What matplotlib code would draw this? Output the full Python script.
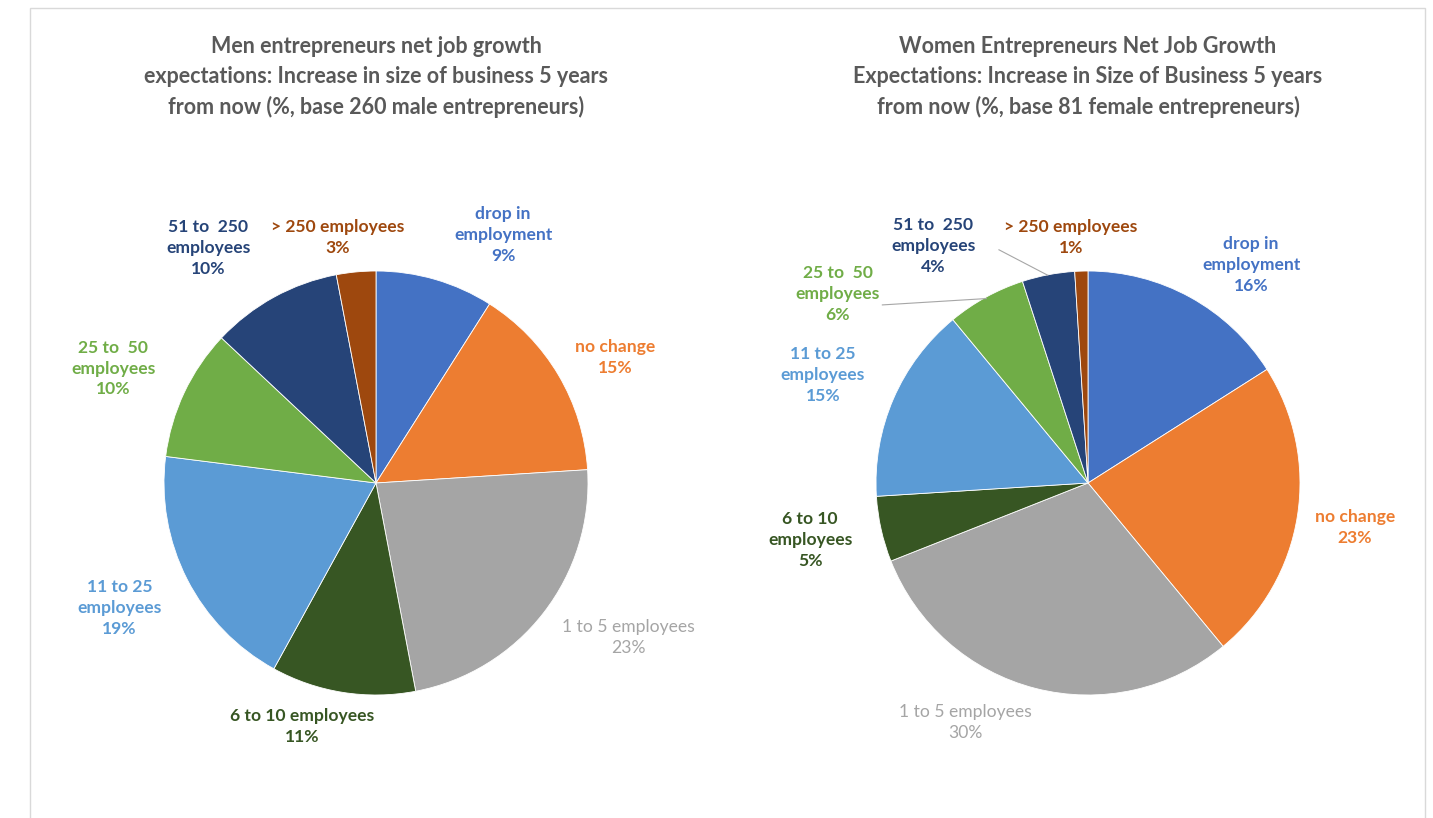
import matplotlib
matplotlib.use("Agg")
import matplotlib.pyplot as plt
from matplotlib.patches import Rectangle

plt.rcParams['font.family'] = ['Lato', 'DejaVu Sans']

# data
categories = ['drop in\nemployment', 'no change', '1 to 5 employees', '6 to 10 employees',
              '11 to 25\nemployees', '25 to  50\nemployees', '51 to  250\nemployees', '> 250 employees']
categories_w = ['drop in\nemployment', 'no change', '1 to 5 employees', '6 to 10\nemployees',
                '11 to 25\nemployees', '25 to  50\nemployees', '51 to  250\nemployees', '> 250 employees']
men_pct = [9, 15, 23, 11, 19, 10, 10, 3]
women_pct = [16, 23, 30, 5, 15, 6, 4, 1]
men_title = "Men entrepreneurs net job growth\nexpectations: Increase in size of business 5 years\nfrom now (%, base 260 male entrepreneurs)"
women_title = "Women Entrepreneurs Net Job Growth\nExpectations: Increase in Size of Business 5 years\nfrom now (%, base 81 female entrepreneurs)"

colors = ['#4472C4', '#ED7D31', '#A5A5A5', '#375623', '#5B9BD5', '#70AD47', '#264478', '#9E480E']
text_colors = ['#4472C4', '#ED7D31', '#A5A5A5', '#375623', '#5B9BD5', '#70AD47', '#264478', '#9E480E']

# label placement (pie radius units)
men_lab_pos = [(0.60, 1.17), (1.13, 0.59), (1.19, -0.73), (-0.35, -1.15),
               (-1.21, -0.59), (-1.24, 0.54), (-0.79, 1.11), (-0.18, 1.16)]
women_lab_pos = [(0.77, 1.03), (1.26, -0.21), (-0.58, -1.13), (-1.31, -0.27),
                 (-1.25, 0.51), (-1.18, 0.89), (-0.73, 1.12), (-0.08, 1.16)]

W, H = 1433, 818
fig = plt.figure(figsize=(W / 100, H / 100), dpi=100)
fig.patches.append(Rectangle((30 / W, -0.01), (1425 - 30) / W, 1 - 8 / H + 0.01,
                             transform=fig.transFigure, fill=False,
                             edgecolor='#D9D9D9', linewidth=1))

R = 212  # pie radius in px
half = 300


def draw_pie(cx, cy, vals, labels, lab_pos, title, leaders):
    ax = fig.add_axes([(cx - half) / W, 1 - (cy + half) / H, 2 * half / W, 2 * half / H])
    lim = half / R
    ax.pie(vals, colors=colors, startangle=90, counterclock=False,
           wedgeprops=dict(edgecolor='white', linewidth=0.6))
    ax.set_xlim(-lim, lim)
    ax.set_ylim(-lim, lim)
    ax.set_aspect('equal')
    ax.axis('off')
    for i, (lab, v) in enumerate(zip(labels, vals)):
        x, y = lab_pos[i]
        wt = 'normal' if i == 2 else 'bold'
        ax.text(x, y, f"{lab}\n{v}%", ha='center', va='center', fontsize=12.6,
                color=text_colors[i], fontweight=wt, linespacing=1.38)
    for (x0, y0, x1, y1) in leaders:
        ax.plot([x0, x1], [y0, y1], color='#A6A6A6', linewidth=0.8)
    fig.text(cx / W, 1 - 77 / H, title, ha='center', va='center', fontsize=15.5,
             fontweight='bold', color='#595959', linespacing=1.5)


draw_pie(376, 483, men_pct, categories, men_lab_pos, men_title, [])
draw_pie(1088, 483, women_pct, categories_w, women_lab_pos, women_title,
         [(-0.42, 1.10, -0.19, 0.98), (-0.97, 0.84, -0.48, 0.87)])

fig.savefig('out.png', dpi=100, facecolor='white')
